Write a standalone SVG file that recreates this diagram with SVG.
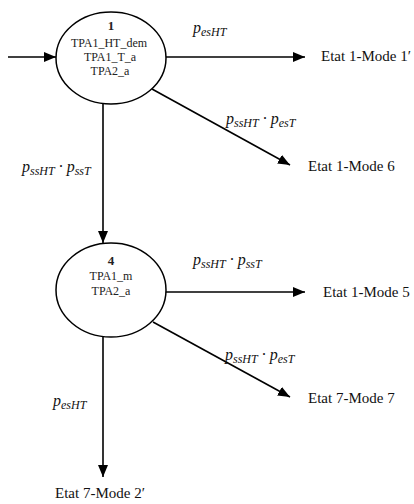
<svg xmlns="http://www.w3.org/2000/svg" width="414" height="504" viewBox="0 0 414 504">
<style>
.bg{fill:#fff}
.node{fill:#fff;stroke:#000;stroke-width:1.5}
.edge{stroke:#000;stroke-width:1.6;fill:none}
.t{font-family:"Liberation Serif","Times New Roman",serif;font-size:12px;fill:#222;text-anchor:middle}
.num{font-weight:bold;font-size:13px}
.lbl{font-family:"Liberation Serif","Times New Roman",serif;font-size:15px;fill:#111}
.m{font-family:"Liberation Serif","Times New Roman",serif;font-style:italic;font-size:16px;fill:#111}
.s{font-size:12px}
</style>
<defs>
<marker id="ah" markerUnits="userSpaceOnUse" markerWidth="13" markerHeight="11" refX="12" refY="5" orient="auto">
<path d="M0,0 L12,5 L0,10 z" fill="#000"/>
</marker>
</defs>
<rect class="bg" x="0" y="0" width="414" height="504"/>
<g id="connectors">
<line class="edge" x1="8" y1="57" x2="56" y2="57" marker-end="url(#ah)"/>
<line class="edge" x1="166" y1="57" x2="305" y2="57" marker-end="url(#ah)"/>
<line class="edge" x1="152" y1="89" x2="290" y2="165" marker-end="url(#ah)"/>
<line class="edge" x1="103" y1="104" x2="103" y2="243" marker-end="url(#ah)"/>
<line class="edge" x1="166" y1="292" x2="305" y2="292" marker-end="url(#ah)"/>
<line class="edge" x1="153" y1="322" x2="290" y2="397" marker-end="url(#ah)"/>
<line class="edge" x1="103" y1="336" x2="103" y2="477" marker-end="url(#ah)"/>
<text class="m" x="193" y="33">p<tspan class="s" y="36">esHT</tspan></text>
<text class="m" x="226" y="124">p<tspan class="s" y="127">ssHT</tspan><tspan y="124"> · p</tspan><tspan class="s" y="127">esT</tspan></text>
<text class="m" x="22" y="172">p<tspan class="s" y="175">ssHT</tspan><tspan y="172"> · p</tspan><tspan class="s" y="175">ssT</tspan></text>
<text class="m" x="193" y="265">p<tspan class="s" y="268">ssHT</tspan><tspan y="265"> · p</tspan><tspan class="s" y="268">ssT</tspan></text>
<text class="m" x="225" y="360">p<tspan class="s" y="363">ssHT</tspan><tspan y="360"> · p</tspan><tspan class="s" y="363">esT</tspan></text>
<text class="m" x="53" y="406">p<tspan class="s" y="409">esHT</tspan></text>
</g>
<g id="node1">
<ellipse class="node" cx="111" cy="58" rx="55" ry="46"/>
<text class="t num" x="111" y="30">1</text>
<text class="t" x="109" y="47">TPA1_HT_dem</text>
<text class="t" x="110" y="61">TPA1_T_a</text>
<text class="t" x="110" y="75">TPA2_a</text>
</g>
<g id="node4">
<ellipse class="node" cx="111" cy="290" rx="55" ry="47"/>
<text class="t num" x="111" y="265">4</text>
<text class="t" x="111" y="280">TPA1_m</text>
<text class="t" x="111" y="295">TPA2_a</text>
</g>
<g id="etat1mode1"><text class="lbl" x="321" y="61">Etat 1-Mode 1′</text></g>
<g id="etat1mode6"><text class="lbl" x="308" y="171">Etat 1-Mode 6</text></g>
<g id="etat1mode5"><text class="lbl" x="323" y="297">Etat 1-Mode 5</text></g>
<g id="etat7mode7"><text class="lbl" x="308" y="403">Etat 7-Mode 7</text></g>
<g id="etat7mode2"><text class="lbl" x="55" y="498">Etat 7-Mode 2′</text></g>
</svg>
